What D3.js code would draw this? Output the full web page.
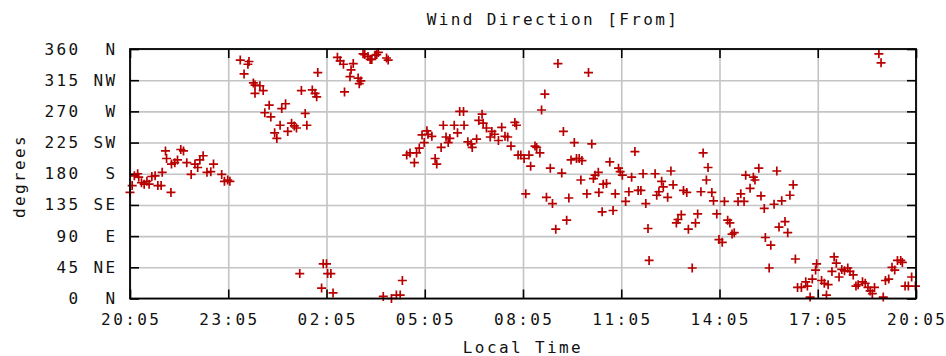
<!DOCTYPE html>
<html>
<head>
<meta charset="utf-8">
<script src="https://cdn.jsdelivr.net/npm/d3@7"></script>
<style>
  body { margin: 0; background: #fff; }
  text { font-family: "DejaVu Sans Mono", monospace; font-size: 16px; letter-spacing: 2.4px; fill: #111; }
</style>
</head>
<body>
<script>
var width = 946
var height = 356
/* global d3 */

// minutes after 20:05, wind direction in degrees
var minutes = [0, 4, 8, 14, 16, 21, 26, 31, 35, 40, 46, 51, 57, 59, 65, 67, 75, 76, 82, 87, 93, 98, 104, 112, 119, 124, 128, 134, 141, 148, 153, 168, 173, 179, 183,
  202, 209, 216, 218, 226, 229, 229, 238, 244, 247, 255, 258, 265, 269, 275, 278, 285, 289, 296, 301, 305, 311, 314, 321, 324, 334, 339, 342, 344,
  351, 354, 360, 362, 368, 372, 380, 385, 391, 393, 403, 405, 409, 418, 420, 423, 427, 430, 436, 440, 443, 449, 452, 455, 464, 470, 473, 479, 488, 495, 499,
  507, 513, 521, 525, 530, 535, 539, 544, 546, 553, 559, 562, 570, 574, 579, 583, 586, 594, 600, 604, 611, 612, 619, 625, 627, 635, 639, 645, 647, 653,
  660, 663, 668, 675, 681, 687, 692, 698, 705, 708, 711, 716, 722, 725, 731, 734, 742, 745, 751, 754, 760, 763, 770, 774, 780, 784, 791, 794, 800, 804,
  808, 814, 818, 823, 826, 828, 837, 840, 846, 849, 852, 858, 859, 865, 867, 873, 879, 885, 889, 895, 898, 902, 908, 914, 919, 925, 931, 936, 940, 945,
  949, 951, 962, 965, 969, 974, 977, 985, 991, 995, 1001, 1004, 1010, 1014, 1020, 1023, 1030, 1036, 1040, 1046, 1050, 1056, 1059, 1066, 1069, 1075,
  1079, 1085, 1089, 1095, 1099, 1103, 1107, 1114, 1119, 1125, 1128, 1136, 1142, 1145, 1152, 1156, 1162, 1164, 1171, 1174, 1180, 1185, 1189, 1194,
  1200, 1205, 1209, 1215, 1219, 1223, 1230, 1238, 1241, 1246, 1250, 1256, 1258, 1267, 1272, 1276, 1279, 1286, 1290, 1294, 1299, 1304, 1309, 1315,
  1319, 1325, 1330, 1334, 1342, 1347, 1352, 1356, 1360, 1364, 1372, 1376, 1380, 1384, 1390, 1396, 1401, 1406, 1412, 1415, 1420, 1426, 1432, 1439]
var degrees = [153, 163, 177, 180, 175, 167, 165, 169, 165, 176, 177, 163, 163, 182, 213, 202, 153, 194, 196, 200, 215, 213, 196, 179, 194, 189, 200, 206, 182, 183, 194, 179, 169, 171, 169,
  344, 324, 338, 342, 311, 296, 308, 307, 300, 268, 279, 262, 239, 231, 250, 274, 281, 241, 253, 249, 246, 36, 300, 267, 250, 301, 296, 291, 326,
  15, 50, 50, 36, 36, 8, 348, 343, 338, 298, 320, 330, 339, 318, 310, 314, 353, 352, 349, 345, 345, 351, 352, 355, 3, 347, 344, 0, 5, 5, 26,
  207, 210, 196, 210, 217, 236, 225, 242, 237, 234, 202, 194, 218, 250, 233, 225, 231, 250, 239, 270, 270, 250, 226, 223, 218, 230, 257, 266, 253, 246,
  233, 241, 237, 228, 247, 234, 233, 220, 254, 250, 207, 207, 202, 151, 207, 191, 220, 218, 210, 272, 295, 146, 188, 137, 100, 339, 181, 241, 113, 145,
  200, 225, 202, 202, 171, 199, 151, 326, 223, 173, 178, 182, 153, 125, 165, 166, 197, 127, 151, 188, 183, 178, 140, 154, 175, 212, 156, 156, 180, 137,
  101, 55, 180, 149, 154, 169, 161, 146, 184, 164, 109, 114, 121, 156, 153, 100, 44, 109, 122, 154, 210, 171, 189, 153, 141, 122,
  85, 81, 140, 113, 109, 93, 95, 140, 151, 140, 178, 159, 175, 171, 188, 148, 130, 88, 44, 77, 136, 184, 103, 141,
  111, 95, 149, 164, 57, 16, 16, 24, 18, 2, 28, 41, 50, 26, 22, 5, 20, 39, 60, 51, 31, 42, 40, 44,
  39, 34, 18, 20, 24, 22, 16, 11, 7, 16, 353, 340, 2, 26, 28, 45, 41, 55, 55, 52, 18, 18, 31, 18]

var yTicks = [0, 45, 90, 135, 180, 225, 270, 315, 360]
var compass = ['N', 'NE', 'E', 'SE', 'S', 'SW', 'W', 'NW', 'N']

var plotL = 130
var plotR = 916
var plotT = 49
var plotB = 298.5

var start = new Date(2000, 0, 1, 20, 5)
var xTicks = d3.range(0, 9).map(function (i) { return d3.timeHour.offset(start, 3 * i) })

var x = d3.scaleTime()
  .domain([start, d3.timeHour.offset(start, 24)])
  .range([plotL, plotR])
var y = d3.scaleLinear()
  .domain([0, 360])
  .range([plotB, plotT])

var svg = d3.select('body').append('svg')
  .attr('width', width)
  .attr('height', height)

// grid
svg.append('g')
  .attr('transform', 'translate(0,' + plotB + ')')
  .call(d3.axisBottom(x).tickValues(xTicks).tickSize(-(plotB - plotT)).tickFormat(''))
  .call(function (g) {
    g.select('.domain').remove()
    g.selectAll('line').attr('stroke', '#c4c4c4').attr('stroke-width', 1.6)
  })
svg.append('g')
  .attr('transform', 'translate(' + plotL + ',0)')
  .call(d3.axisLeft(y).tickValues(yTicks).tickSize(-(plotR - plotL)).tickFormat(''))
  .call(function (g) {
    g.select('.domain').remove()
    g.selectAll('line').attr('stroke', '#c4c4c4').attr('stroke-width', 1.6)
  })

// inward tick marks on all four sides
function ticks (axis, tx, ty) {
  svg.append('g')
    .attr('transform', 'translate(' + tx + ',' + ty + ')')
    .call(axis.tickSize(-9).tickFormat(''))
    .call(function (g) {
      g.select('.domain').remove()
      g.selectAll('line').attr('stroke', '#000').attr('stroke-width', 1.6)
    })
}
ticks(d3.axisBottom(x).tickValues(xTicks), 0, plotB)
ticks(d3.axisTop(x).tickValues(xTicks), 0, plotT)
ticks(d3.axisLeft(y).tickValues(yTicks), plotL, 0)
ticks(d3.axisRight(y).tickValues(yTicks), plotR, 0)

// points
var pts = minutes.map(function (m, i) {
  return { t: d3.timeMinute.offset(start, m), d: degrees[i] }
})
var s = 4.5
svg.append('g')
  .selectAll('path')
  .data(pts)
  .enter()
  .append('path')
  .attr('d', function (p) {
    var px = x(p.t)
    var py = y(p.d)
    return 'M' + (px - s) + ',' + py + 'H' + (px + s) + 'M' + px + ',' + (py - s) + 'V' + (py + s)
  })
  .attr('stroke', '#b80000')
  .attr('stroke-width', 1.7)
  .attr('fill', 'none')

// border
svg.append('rect')
  .attr('x', plotL)
  .attr('y', plotT)
  .attr('width', plotR - plotL)
  .attr('height', plotB - plotT)
  .attr('fill', 'none')
  .attr('stroke', '#000')
  .attr('stroke-width', 1.8)

// labels
var fmt = d3.timeFormat('%H:%M')
svg.append('g')
  .selectAll('text')
  .data(xTicks)
  .enter()
  .append('text')
  .attr('x', function (d) { return x(d) + 1.2 })
  .attr('y', 325)
  .attr('text-anchor', 'middle')
  .text(fmt)

svg.append('g')
  .selectAll('text')
  .data(yTicks)
  .enter()
  .append('text')
  .attr('x', 80.5)
  .attr('y', function (d) { return y(d) + 5.5 })
  .attr('text-anchor', 'end')
  .text(function (d) { return d })

svg.append('g')
  .selectAll('text')
  .data(yTicks)
  .enter()
  .append('text')
  .attr('x', 117.5)
  .attr('y', function (d) { return y(d) + 5.5 })
  .attr('text-anchor', 'end')
  .text(function (d, i) { return compass[i] })

svg.append('text')
  .attr('x', 553)
  .attr('y', 25)
  .attr('text-anchor', 'middle')
  .text('Wind Direction [From]')

svg.append('text')
  .attr('x', 523)
  .attr('y', 353)
  .attr('text-anchor', 'middle')
  .text('Local Time')

svg.append('text')
  .attr('transform', 'translate(25,176) rotate(-90)')
  .attr('text-anchor', 'middle')
  .text('degrees')
</script>
</body>
</html>
